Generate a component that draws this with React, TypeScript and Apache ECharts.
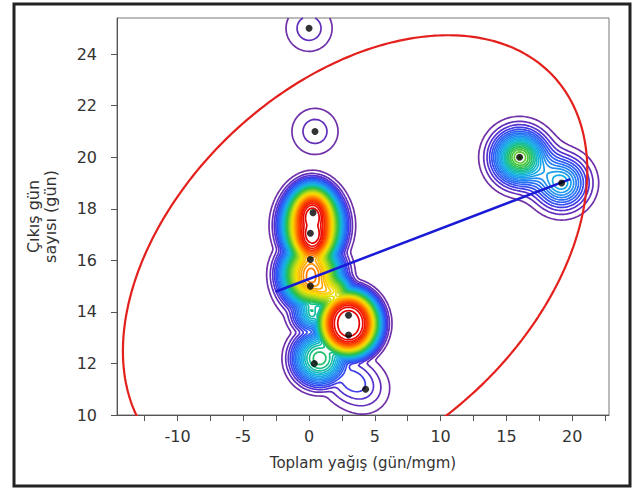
import React, { useEffect, useRef } from "react";
import * as echarts from "echarts";

// ---- chart geometry ----
const CHART_W = 632;
const CHART_H = 490;
const GRID_LEFT = 117;
const GRID_RIGHT = 23;
const GRID_TOP = 18;
const GRID_BOTTOM = 75;

// ---- axes ----
const X_MIN = -14.6;
const X_MAX = 22.8;
const Y_MIN = 10;
const Y_MAX = 25.4;
const X_TICKS = [-12.5, -10, -7.5, -5, -2.5, 0, 2.5, 5, 7.5, 10, 12.5, 15, 17.5, 20, 22.5];
const X_LABELS = [-10, -5, 0, 5, 10, 15, 20];
const Y_TICKS = [10, 12, 14, 16, 18, 20, 22, 24];
const X_TITLE = "Toplam yağış (gün/mgm)";
const Y_TITLE = "Çıkış gün\nsayısı (gün)";

// ---- visible observations (black dots) ----
const DOT_X = [0, 0.45, 0.3, 0.1, 0.1, 0.1, 3.0, 3.0, 0.4, 4.3, 16.0, 19.2];
const DOT_Y = [25, 21, 17.85, 17.05, 16.03, 15.0, 13.87, 13.1, 12.0, 11.0, 20.0, 19.0];

// ---- density estimate: isolated kernels (x, y, weight) ----
const KER_X = [0, 0.45, 0.1, 4.3, 2.8, 16.0, 19.2];
const KER_Y = [25, 21, 15.0, 11.0, 11.5, 20.0, 19.0];
const KER_W = [1, 1, 6, 1, 1.3, 7.7, 4.5];

// ---- density estimate: dense lobes (centre, radii in px, height in levels, edge softness px) ----
const LOBE_X = [0.25, 0.15, 1.5, 3.0, 0.8, 0.2];
const LOBE_Y = [17.35, 15.45, 14.8, 13.55, 12.2, 14.0];
const LOBE_RX = [24, 24, 18, 28, 22, 12];
const LOBE_RY = [36, 26, 15, 30, 22, 14];
const LOBE_H = [37.2, 31, 26, 36.6, 17, 17];
const LOBE_S = [10, 11, 8, 8, 10, 10];

// ---- density ellipse: centre and conjugate half-diameters ----
const ELLIPSE_CENTER = [3.5, 15.98];
const ELLIPSE_U = [17.65, 3.5];
const ELLIPSE_V = [0, 8.02];

// ---- fitted line ----
const LINE_X = [-2.55, 19.85];
const LINE_Y = [14.78, 19.15];

// ---- contour settings ----
const KERNEL_PX = 16.7;
const KERNEL_PEAK = 2.59;
const N_LEVELS = 36;

const COLOR_STOPS: [number, string][] = [
  [0.0, "#7030a8"],
  [0.05, "#5a2ec8"],
  [0.09, "#3c3ce8"],
  [0.14, "#2b5cf5"],
  [0.23, "#2390f2"],
  [0.31, "#15b5e0"],
  [0.4, "#18c088"],
  [0.47, "#34c040"],
  [0.6, "#b0d81c"],
  [0.68, "#f6e000"],
  [0.77, "#ffa800"],
  [0.86, "#ff5a00"],
  [0.94, "#f41800"],
  [1.0, "#e00000"],
];

const KX = (CHART_W - GRID_LEFT - GRID_RIGHT) / (X_MAX - X_MIN);
const KY = (CHART_H - GRID_TOP - GRID_BOTTOM) / (Y_MAX - Y_MIN);

function hexToRgb(h: string) {
  return [parseInt(h.slice(1, 3), 16), parseInt(h.slice(3, 5), 16), parseInt(h.slice(5, 7), 16)];
}
function colorAt(t: number) {
  for (let k = 0; k < COLOR_STOPS.length - 1; k++) {
    const [t0, c0] = COLOR_STOPS[k];
    const [t1, c1] = COLOR_STOPS[k + 1];
    if (t <= t1) {
      const f = (t - t0) / (t1 - t0);
      const a = hexToRgb(c0), b = hexToRgb(c1);
      const r = a.map((v, i) => Math.round(v + (b[i] - v) * f));
      return `rgb(${r[0]},${r[1]},${r[2]})`;
    }
  }
  return COLOR_STOPS[COLOR_STOPS.length - 1][1];
}

function erfc(x: number) {
  const z = Math.abs(x);
  const t = 1 / (1 + 0.5 * z);
  const r =
    t *
    Math.exp(
      -z * z - 1.26551223 +
        t * (1.00002368 + t * (0.37409196 + t * (0.09678418 + t * (-0.18628806 + t * (0.27886807 +
        t * (-1.13520398 + t * (1.48851587 + t * (-0.82215223 + t * 0.17087277))))))))
    );
  return x >= 0 ? r : 2 - r;
}

function density(x: number, y: number) {
  let g = 0;
  const s2 = 2 * KERNEL_PX * KERNEL_PX;
  for (let k = 0; k < KER_X.length; k++) {
    const ux = (x - KER_X[k]) * KX, uy = (y - KER_Y[k]) * KY;
    g += KER_W[k] * KERNEL_PEAK * Math.exp(-(ux * ux + uy * uy) / s2);
  }
  let acc = Math.pow(g, 4);
  for (let k = 0; k < LOBE_X.length; k++) {
    const ux = (x - LOBE_X[k]) * KX, uy = (y - LOBE_Y[k]) * KY;
    const rx = LOBE_RX[k], ry = LOBE_RY[k];
    const q = Math.sqrt((ux / rx) ** 2 + (uy / ry) ** 2);
    const rho = Math.sqrt(ux * ux + uy * uy);
    const dist = q > 1e-6 ? rho * (1 - 1 / q) : -Math.min(rx, ry);
    const v = LOBE_H[k] * 0.5 * erfc(dist / (LOBE_S[k] * Math.SQRT2));
    acc += Math.pow(v, 4);
  }
  return Math.pow(acc, 0.25);
}

type Chain = { pts: number[][]; color: string };

function buildContours(): Chain[] {
  const nx = 260, ny = 210;
  const dx = (X_MAX - X_MIN) / (nx - 1);
  const dy = (Y_MAX - Y_MIN) / (ny - 1);
  const val = new Float64Array(nx * ny);
  for (let j = 0; j < ny; j++)
    for (let i = 0; i < nx; i++) val[j * nx + i] = density(X_MIN + i * dx, Y_MIN + j * dy);
  const out: Chain[] = [];
  const nEdges = nx * ny * 2;
  for (let li = 1; li <= N_LEVELS; li++) {
    const L = li;
    const color = colorAt((li - 1) / (N_LEVELS - 1));
    const segA: number[] = [];
    const segB: number[] = [];
    const adj1 = new Int32Array(nEdges).fill(-1);
    const adj2 = new Int32Array(nEdges).fill(-1);
    const add = (e1: number, e2: number) => {
      const id = segA.length;
      segA.push(e1);
      segB.push(e2);
      for (const e of [e1, e2]) {
        if (adj1[e] < 0) adj1[e] = id;
        else adj2[e] = id;
      }
    };
    for (let j = 0; j < ny - 1; j++) {
      for (let i = 0; i < nx - 1; i++) {
        const va = val[j * nx + i], vb = val[j * nx + i + 1];
        const vc = val[(j + 1) * nx + i + 1], vd = val[(j + 1) * nx + i];
        const a = va >= L, b = vb >= L, c = vc >= L, d = vd >= L;
        const code = (a ? 1 : 0) | (b ? 2 : 0) | (c ? 4 : 0) | (d ? 8 : 0);
        if (code === 0 || code === 15) continue;
        const eB = (j * nx + i) * 2;
        const eT = ((j + 1) * nx + i) * 2;
        const eL = (j * nx + i) * 2 + 1;
        const eR = (j * nx + i + 1) * 2 + 1;
        if (code === 5 || code === 10) {
          const center = (va + vb + vc + vd) / 4 >= L;
          if ((code === 5) === center) {
            add(eB, eR);
            add(eT, eL);
          } else {
            add(eL, eB);
            add(eR, eT);
          }
          continue;
        }
        const es: number[] = [];
        if (a !== b) es.push(eB);
        if (b !== c) es.push(eR);
        if (c !== d) es.push(eT);
        if (d !== a) es.push(eL);
        if (es.length === 2) add(es[0], es[1]);
      }
    }
    const edgePt = (e: number) => {
      const cell = e >> 1;
      const i = cell % nx;
      const j = (cell - i) / nx;
      if ((e & 1) === 0) {
        const v1 = val[cell], v2 = val[cell + 1];
        const t = (L - v1) / (v2 - v1);
        return [X_MIN + (i + t) * dx, Y_MIN + j * dy];
      }
      const v1 = val[cell], v2 = val[cell + nx];
      const t = (L - v1) / (v2 - v1);
      return [X_MIN + i * dx, Y_MIN + (j + t) * dy];
    };
    const used = new Uint8Array(segA.length);
    const nextSeg = (e: number) => {
      if (adj1[e] >= 0 && !used[adj1[e]]) return adj1[e];
      if (adj2[e] >= 0 && !used[adj2[e]]) return adj2[e];
      return -1;
    };
    for (let s = 0; s < segA.length; s++) {
      if (used[s]) continue;
      used[s] = 1;
      const fwd = [segA[s], segB[s]];
      let cur = segB[s];
      for (;;) {
        const n = nextSeg(cur);
        if (n < 0) break;
        used[n] = 1;
        cur = segA[n] === cur ? segB[n] : segA[n];
        fwd.push(cur);
      }
      const back: number[] = [];
      cur = segA[s];
      for (;;) {
        const n = nextSeg(cur);
        if (n < 0) break;
        used[n] = 1;
        cur = segA[n] === cur ? segB[n] : segA[n];
        back.push(cur);
      }
      const ids = back.reverse().concat(fwd);
      out.push({ pts: ids.map(edgePt), color });
    }
  }
  return out;
}

function ellipsePoints() {
  const pts: number[][] = [];
  for (let k = 0; k <= 360; k++) {
    const t = (k / 360) * Math.PI * 2;
    pts.push([
      ELLIPSE_CENTER[0] + ELLIPSE_U[0] * Math.cos(t) + ELLIPSE_V[0] * Math.sin(t),
      ELLIPSE_CENTER[1] + ELLIPSE_U[1] * Math.cos(t) + ELLIPSE_V[1] * Math.sin(t),
    ]);
  }
  return pts;
}

const FONT = "DejaVu Sans";

export default function App() {
  const ref = useRef<HTMLDivElement>(null);
  useEffect(() => {
    if (!ref.current) return;
    const chart = echarts.init(ref.current, null, { renderer: "svg" });
    const chains = buildContours();
    const option: any = {
      animation: false,
      backgroundColor: "#ffffff",
      grid: {
        left: GRID_LEFT,
        right: GRID_RIGHT,
        top: GRID_TOP,
        bottom: GRID_BOTTOM,
        show: true,
        borderColor: "#777",
        borderWidth: 1,
      },
      xAxis: {
        type: "value",
        min: X_MIN,
        max: X_MAX,
        name: X_TITLE,
        nameLocation: "middle",
        nameGap: 40,
        nameTextStyle: { fontFamily: FONT, fontSize: 15, color: "#333" },
        axisLine: { show: true, onZero: false, lineStyle: { color: "#555", width: 1 } },
        axisTick: { show: true, length: 6, customValues: X_TICKS, lineStyle: { color: "#555" } },
        axisLabel: { customValues: X_LABELS, fontFamily: FONT, fontSize: 16, color: "#333", margin: 13 },
        splitLine: { show: false },
      },
      yAxis: {
        type: "value",
        min: Y_MIN,
        max: Y_MAX,
        name: Y_TITLE,
        nameLocation: "middle",
        nameGap: 58,
        nameTextStyle: { fontFamily: FONT, fontSize: 16, color: "#333", lineHeight: 17, align: "center" },
        axisLine: { show: true, onZero: false, lineStyle: { color: "#555", width: 1 } },
        axisTick: { show: true, length: 6, customValues: Y_TICKS, lineStyle: { color: "#555" } },
        axisLabel: { customValues: Y_TICKS, fontFamily: FONT, fontSize: 16, color: "#333", margin: 20 },
        splitLine: { show: false },
      },
      graphic: [
        {
          type: "rect",
          shape: { x: 14, y: 4, width: 616, height: 482 },
          style: { fill: "transparent", stroke: "#222", lineWidth: 3 },
          silent: true,
          z: 100,
        },
      ],
      series: [
        {
          type: "custom",
          coordinateSystem: "cartesian2d",
          silent: true,
          z: 3,
          data: chains.map((c, k) => [c.pts[0][0], c.pts[0][1], k]),
          encode: { x: 0, y: 1 },
          renderItem: (params: any, api: any) => {
            const ch = chains[api.value(2)];
            return {
              type: "polyline",
              shape: { points: ch.pts.map((p) => api.coord(p)) },
              style: { stroke: ch.color, fill: null, lineWidth: 1.7 },
              silent: true,
            };
          },
        },
        {
          type: "line",
          data: ellipsePoints(),
          showSymbol: false,
          silent: true,
          clip: true,
          z: 4,
          lineStyle: { color: "#e3201c", width: 2.2 },
        },
        {
          type: "line",
          data: LINE_X.map((x, k) => [x, LINE_Y[k]]),
          showSymbol: false,
          silent: true,
          z: 5,
          lineStyle: { color: "#1a1ad6", width: 2.5 },
        },
        {
          type: "scatter",
          data: DOT_X.map((x, k) => [x, DOT_Y[k]]),
          symbolSize: 7,
          silent: true,
          z: 6,
          itemStyle: { color: "#000" },
        },
      ],
    };
    chart.setOption(option);
    return () => chart.dispose();
  }, []);
  return (
    <div style={{ position: "absolute", left: 0, top: 0, width: CHART_W, height: CHART_H, background: "#fff" }}>
      <div ref={ref} style={{ width: CHART_W, height: CHART_H }} />
    </div>
  );
}
